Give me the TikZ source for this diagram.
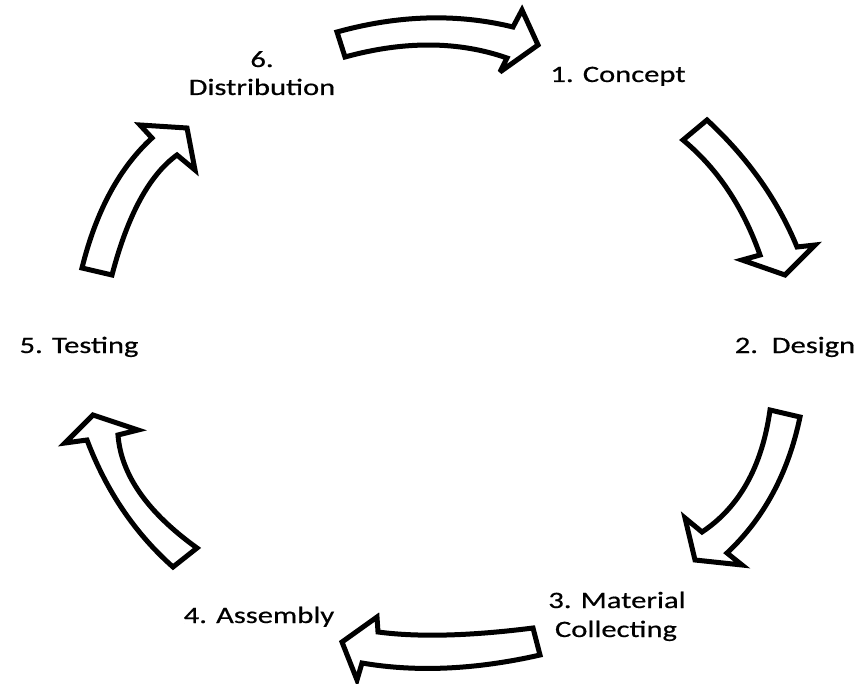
\documentclass[tikz,border=0pt]{standalone}
\usepackage{fontspec}
\setmainfont{Carlito}[FakeStretch=1.3,FakeBold=0.6]
\begin{document}
\begin{tikzpicture}[x=1pt,y=-1pt,
  blockarrow/.style={draw=black,fill=white,line width=5pt,line join=miter,miter limit=4},
  lbl/.style={inner sep=0pt,anchor=base,font=\fontsize{23.5}{29}\selectfont}]
\useasboundingbox (0,0) rectangle (861,684);
% labels
\node[lbl] (d6) at (262,67) {6.};
\node[lbl] (d6b) at (262,95) {Distribution};
\node[lbl] (c1) at (618,82) {1. Concept};
\node[lbl] (d2) at (795,353) {2.\ \ Design};
\node[lbl] (m3) at (617,608) {3. Material};
\node[lbl] (m3b) at (616,637) {Collecting};
\node[lbl] (a4) at (259,623) {4. Assembly};
\node[lbl] (t5) at (79,353) {5. Testing};
% arrow 1 (top, right)
\draw[blockarrow] (337,32) .. controls (398.3,15) and (457,13.3) .. (513,27)
  -- (522,10) -- (538,45) -- (500,72) -- (507,58)
  .. controls (458.3,41) and (404.3,40.7) .. (345,57) -- cycle;
% arrow 2 (upper right, down-right)
\draw[blockarrow] (707,120) .. controls (747.7,157.7) and (777.7,200) .. (797,247)
  -- (815,245) -- (785,275) -- (742,260) -- (760,255)
  .. controls (743,206.7) and (717.3,168.3) .. (683,140) -- cycle;
% arrow 3 (lower right, down-left)
\draw[blockarrow] (800,417) .. controls (788.3,473) and (764,518.3) .. (727,553)
  -- (742,565) -- (695,560) -- (685,518) -- (702,532)
  .. controls (739.3,507.3) and (762,466.7) .. (770,410) -- cycle;
% arrow 4 (bottom, left)
\draw[blockarrow] (533,628) .. controls (470,636) and (418.3,637.3) .. (378,632)
  -- (377,617) -- (342,642) -- (357,680) -- (362,663)
  .. controls (416,672.3) and (475.3,669.7) .. (540,655) -- cycle;
% arrow 5 (lower left, up-left)
\draw[blockarrow] (173,567) .. controls (135,533.3) and (106.3,491) .. (87,440)
  -- (65,443) -- (93,415) -- (138,430) -- (118,435)
  .. controls (121,474.7) and (147.3,512.3) .. (197,548) -- cycle;
% arrow 6 (upper left, up-right)
\draw[blockarrow] (82,268) .. controls (96,211.3) and (119.3,168) .. (152,138)
  -- (140,125) -- (187,128) -- (195,170) -- (177,155)
  .. controls (149.3,175) and (127.7,215) .. (112,275) -- cycle;
\end{tikzpicture}
\end{document}
